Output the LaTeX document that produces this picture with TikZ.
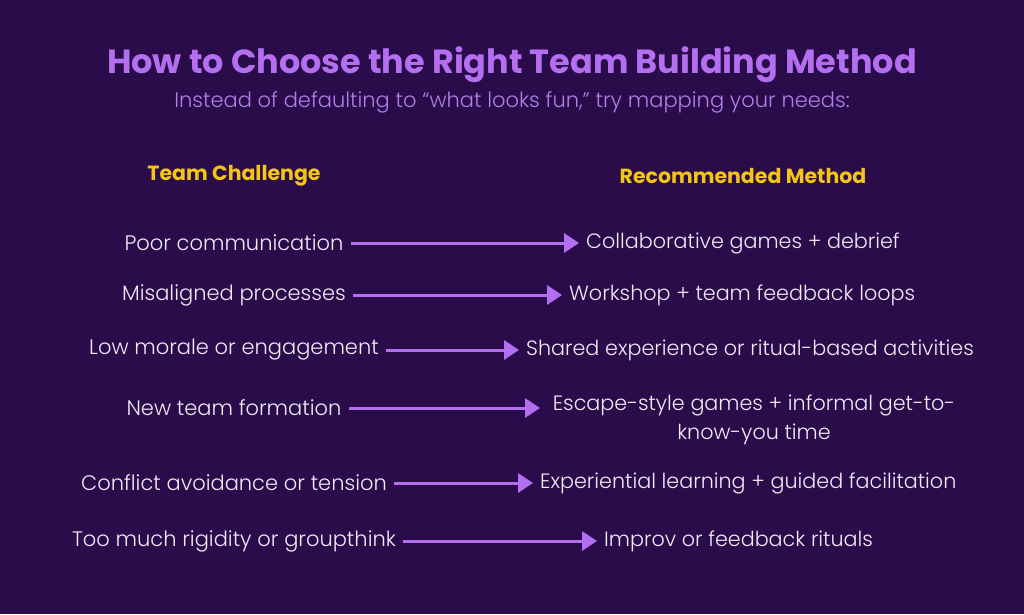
\documentclass[tikz,border=0pt]{standalone}
\usepackage{fontspec}
\setmainfont{Poppins}
\newfontfamily\lightfont{Poppins Light}
\usetikzlibrary{arrows.meta}
\definecolor{bg}{HTML}{2A0C4A}
\definecolor{titlec}{HTML}{B46EF0}
\definecolor{subc}{HTML}{B07EE8}
\definecolor{headc}{HTML}{F2C517}
\definecolor{bodyc}{HTML}{F2EAF7}
\definecolor{arrowc}{HTML}{B46EF0}
\tikzset{
  title/.style={font=\fontsize{33.5}{38}\selectfont\bfseries, text=titlec, inner sep=0pt},
  subtitle/.style={font=\lightfont\fontsize{21}{25}\selectfont, text=subc, inner sep=0pt},
  head/.style={font=\fontsize{20.5}{24}\selectfont\bfseries, text=headc, inner sep=0pt},
  lefttext/.style={font=\lightfont\fontsize{21}{25}\selectfont, text=bodyc, inner sep=0pt},
  righttext/.style={font=\lightfont\fontsize{20.7}{29}\selectfont, text=bodyc, inner sep=0pt, anchor=west},
  conn/.style={draw=arrowc, line width=3pt, -{Triangle[length=15pt,width=19pt]}, shorten <=7pt, shorten >=7pt}
}
\begin{document}
\begin{tikzpicture}[x=1pt,y=1pt]
\fill[bg] (0,0) rectangle (1024,614);
\useasboundingbox (0,0) rectangle (1024,614);
\node[title] (t) at (512,549) {How to Choose the Right Team Building Method};
\node[subtitle] (s) at (512,512) {Instead of defaulting to “what looks fun,” try mapping your needs:};
\node[head] (h1) at (234,438) {Team Challenge};
\node[head] (h2) at (743,438) {Recommended Method};

\node[lefttext] (l1) at (234,371) {Poor communication};
\node[righttext] (r1) at (586,371) {Collaborative games + debrief};
\node[lefttext] (l2) at (234,319) {Misaligned processes};
\node[righttext] (r2) at (569,319) {Workshop + team feedback loops};
\node[lefttext] (l3) at (234,264) {Low morale or engagement};
\node[righttext] (r3) at (526,264) {Shared experience or ritual-based activities};
\node[lefttext] (l4) at (234,206) {New team formation};
\node[righttext, align=center, anchor=north] (r4) at (754,219) {Escape-style games + informal get-to-\\know-you time};
\coordinate (e4) at (547,206);
\node[lefttext] (l5) at (234,131) {Conflict avoidance or tension};
\node[righttext] (r5) at (540,131) {Experiential learning + guided facilitation};
\node[lefttext] (l6) at (234,73) {Too much rigidity or groupthink};
\node[righttext] (r6) at (604,73) {Improv or feedback rituals};

\draw[conn] (l1.east) -- (r1.west);
\draw[conn] (l2.east) -- (r2.west);
\draw[conn] (l3.east) -- (r3.west);
\draw[conn] (l4.east) -- (e4);
\draw[conn] (l5.east) -- (r5.west);
\draw[conn] (l6.east) -- (r6.west);
\end{tikzpicture}
\end{document}
